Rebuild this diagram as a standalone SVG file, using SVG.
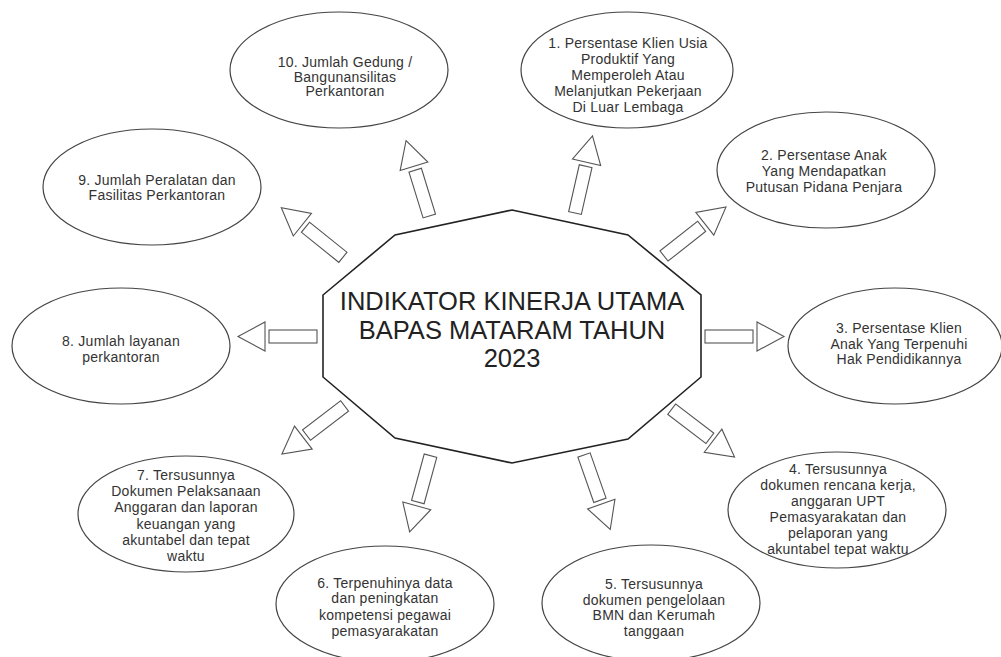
<svg xmlns="http://www.w3.org/2000/svg" xmlns:xlink="http://www.w3.org/1999/xlink" width="1001" height="657" viewBox="0 0 1001 657">
<style>
.el{fill:#fff;stroke:#444;stroke-width:1.2}
.t{font-family:"Liberation Sans",Arial,sans-serif;font-size:14px;letter-spacing:0.25px;fill:#333;text-anchor:middle}
.ct{font-family:"Liberation Sans",Arial,sans-serif;font-size:25.5px;fill:#222;text-anchor:middle}
.ar{fill:#fff;stroke:#555;stroke-width:1.1}
</style>
<defs>
<g id="arr">
<rect class="ar" x="0" y="-6.5" width="48" height="13"/>
<polygon class="ar" points="52,-14.5 52,14.5 79,0"/>
</g>
</defs>
<rect width="1001" height="657" fill="#fff"/>
<g id="connectors">
<use xlink:href="#arr" transform="translate(575,213) rotate(-77.2)"/>
<use xlink:href="#arr" transform="translate(664,256) rotate(-38.3)"/>
<use xlink:href="#arr" transform="translate(705,336.5) rotate(0)"/>
<use xlink:href="#arr" transform="translate(671.7,409.2) rotate(37.3)"/>
<use xlink:href="#arr" transform="translate(584,455) rotate(70.6)"/>
<use xlink:href="#arr" transform="translate(430.5,455.7) rotate(105.3)"/>
<use xlink:href="#arr" transform="translate(344.6,405.9) rotate(142.5)"/>
<use xlink:href="#arr" transform="translate(317,336.5) rotate(180)"/>
<use xlink:href="#arr" transform="translate(342.9,257.3) rotate(-141.2)"/>
<use xlink:href="#arr" transform="translate(429.3,216) rotate(-107.1)"/>
</g>
<g id="center">
<polygon points="512,210 628,235 701,295 701,377 628,439 512,463 395,438 323,377 323,295 395,235" fill="#fff" stroke="#222" stroke-width="1.6"/>
<text class="ct" x="512" y="310">INDIKATOR KINERJA UTAMA</text>
<text class="ct" x="512" y="339">BAPAS MATARAM TAHUN</text>
<text class="ct" x="512" y="367">2023</text>
</g>
<g id="node1">
<ellipse class="el" cx="627" cy="70" rx="106" ry="58"/>
<text class="t" x="628" y="47.5">1. Persentase Klien Usia</text>
<text class="t" x="628" y="63.5">Produktif Yang</text>
<text class="t" x="628" y="79.5">Memperoleh Atau</text>
<text class="t" x="628" y="95.5">Melanjutkan Pekerjaan</text>
<text class="t" x="628" y="111.5">Di Luar Lembaga</text>
</g>
<g id="node2">
<ellipse class="el" cx="826" cy="170" rx="109" ry="58"/>
<text class="t" x="824" y="160">2. Persentase Anak</text>
<text class="t" x="824" y="176">Yang Mendapatkan</text>
<text class="t" x="824" y="192">Putusan Pidana Penjara</text>
</g>
<g id="node3">
<ellipse class="el" cx="895" cy="346" rx="107" ry="58"/>
<text class="t" x="899" y="333">3. Persentase Klien</text>
<text class="t" x="899" y="349">Anak Yang Terpenuhi</text>
<text class="t" x="899" y="364">Hak Pendidikannya</text>
</g>
<g id="node4">
<ellipse class="el" cx="837" cy="510" rx="109" ry="58"/>
<text class="t" x="838" y="474">4. Tersusunnya</text>
<text class="t" x="838" y="490">dokumen rencana kerja,</text>
<text class="t" x="838" y="506">anggaran UPT</text>
<text class="t" x="838" y="522">Pemasyarakatan dan</text>
<text class="t" x="838" y="538">pelaporan yang</text>
<text class="t" x="838" y="554">akuntabel tepat waktu</text>
</g>
<g id="node5">
<ellipse class="el" cx="651" cy="603" rx="109" ry="58"/>
<text class="t" x="654" y="589">5. Tersusunnya</text>
<text class="t" x="654" y="605">dokumen pengelolaan</text>
<text class="t" x="654" y="620">BMN dan Kerumah</text>
<text class="t" x="654" y="636">tanggaan</text>
</g>
<g id="node6">
<ellipse class="el" cx="385" cy="604" rx="109" ry="58"/>
<text class="t" x="385" y="588">6. Terpenuhinya data</text>
<text class="t" x="385" y="603">dan peningkatan</text>
<text class="t" x="385" y="620">kompetensi pegawai</text>
<text class="t" x="385" y="636">pemasyarakatan</text>
</g>
<g id="node7">
<ellipse class="el" cx="186" cy="514" rx="108" ry="58"/>
<text class="t" x="186" y="480">7. Tersusunnya</text>
<text class="t" x="186" y="496">Dokumen Pelaksanaan</text>
<text class="t" x="186" y="512">Anggaran dan laporan</text>
<text class="t" x="186" y="529">keuangan yang</text>
<text class="t" x="186" y="545">akuntabel dan tepat</text>
<text class="t" x="186" y="561">waktu</text>
</g>
<g id="node8">
<ellipse class="el" cx="121" cy="346" rx="109" ry="58"/>
<text class="t" x="121" y="346">8. Jumlah layanan</text>
<text class="t" x="121" y="362">perkantoran</text>
</g>
<g id="node9">
<ellipse class="el" cx="152" cy="187" rx="109" ry="58"/>
<text class="t" x="157" y="185">9. Jumlah Peralatan dan</text>
<text class="t" x="157" y="200">Fasilitas Perkantoran</text>
</g>
<g id="node10">
<ellipse class="el" cx="339" cy="70" rx="109" ry="58"/>
<text class="t" x="345" y="67">10. Jumlah Gedung /</text>
<text class="t" x="345" y="82">Bangunansilitas</text>
<text class="t" x="345" y="96">Perkantoran</text>
</g>
</svg>
